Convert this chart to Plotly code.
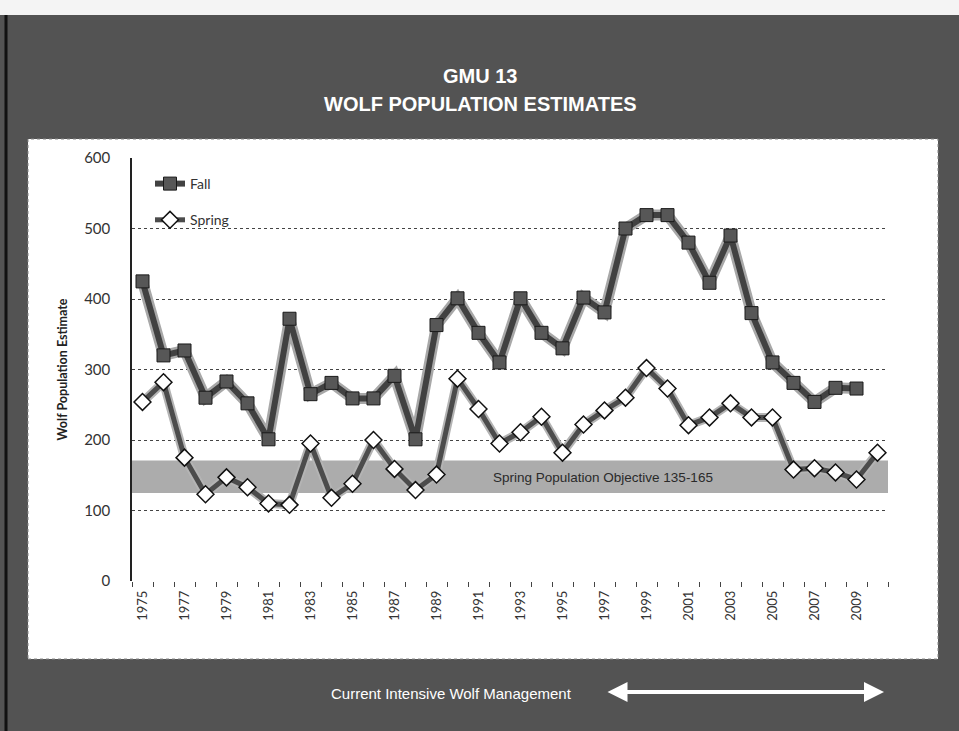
import plotly.graph_objects as go

# ---- data ----
fall_years = list(range(1975, 2010))
fall_values = [425, 320, 327, 260, 283, 252, 201, 372, 265, 281, 259, 259, 291, 201, 363,
               401, 352, 310, 401, 352, 330, 402, 381, 500, 519, 519, 480, 423, 490, 380,
               310, 281, 254, 274, 273]
spring_years = list(range(1975, 2011))
spring_values = [254, 282, 175, 123, 147, 133, 110, 108, 195, 118, 138, 200, 159, 129, 151,
                 287, 244, 195, 211, 233, 182, 222, 242, 260, 302, 273, 221, 232, 252, 232,
                 232, 158, 160, 154, 144, 182]
tick_labels = [str(y) for y in range(1975, 2010, 2)]
objective_low, objective_high = 125, 171   # band as drawn in the picture
objective_label = "Spring Population Objective 135-165"

# ---- layout geometry (pixels) ----
W, H = 959, 731
L, R, T, B = 132, 71, 158, 150
pw, ph = W - L - R, H - T - B

def px(xpix):
    return (xpix - L) / pw

def py(ypix):
    return (H - B - ypix) / ph

fig = go.Figure()

# halo / shadow lines under the series
fig.add_trace(go.Scatter(x=fall_years, y=fall_values, mode="lines",
                         line=dict(color="#a8a8a8", width=11), showlegend=False,
                         hoverinfo="skip"))
fig.add_trace(go.Scatter(x=spring_years, y=spring_values, mode="lines",
                         line=dict(color="#b4b4b4", width=9), showlegend=False,
                         hoverinfo="skip"))

fig.add_trace(go.Scatter(
    x=fall_years, y=fall_values, mode="lines+markers", name="Fall", legendgroup="f",
    line=dict(color="#414141", width=6),
    marker=dict(symbol="square", size=13, color="#575757", line=dict(color="#1a1a1a", width=1))))
fig.add_trace(go.Scatter(
    x=spring_years, y=spring_values, mode="lines+markers", name="Spring", legendgroup="s",
    line=dict(color="#4c4c4c", width=5),
    marker=dict(symbol="diamond", size=13, color="white", line=dict(color="#111111", width=1.5))))

font_ui = "Lato, 'Noto Sans', sans-serif"
font_arial = "'Liberation Sans', Arial, sans-serif"

shapes = [
    # white chart panel
    dict(type="rect", xref="paper", yref="paper", x0=px(28), x1=px(938), y0=py(659), y1=py(139),
         fillcolor="white", line=dict(color="#888888", width=1, dash="dot"), layer="below"),
    # top light strip
    dict(type="rect", xref="paper", yref="paper", x0=px(0), x1=px(959), y0=py(15), y1=py(0),
         fillcolor="#f4f4f4", line=dict(width=0), layer="below"),
    # left dark edge
    dict(type="line", xref="paper", yref="paper", x0=px(6), x1=px(6), y0=py(731), y1=py(15),
         line=dict(color="#111111", width=3), layer="below"),
    # objective band
    dict(type="rect", xref="paper", yref="y", x0=0, x1=1, y0=objective_low, y1=objective_high,
         fillcolor="#acacac", line=dict(width=0), layer="below"),
]

def label(text, x, y, size, color, family=font_arial, yref="paper"):
    return dict(text=text, xref="paper", yref=yref, x=x, y=y, xanchor="center",
                yanchor="middle", showarrow=False,
                font=dict(family=family, size=size, color=color))

annotations = [
    label("<b>GMU 13</b>", px(480), py(76), 20, "white"),
    label("<b>WOLF POPULATION ESTIMATES</b>", px(480), py(104), 20, "white"),
    label(objective_label, px(603), (objective_low + objective_high) / 2 - 1, 13.5,
          "#2a2a2a", yref="y"),
    label("Current Intensive Wolf Management", px(451), py(693), 15, "white"),
    dict(text="", xref="paper", yref="paper", x=px(884), y=py(692), ax=-278, ay=0,
         axref="pixel", ayref="pixel", showarrow=True, arrowside="end+start",
         arrowhead=2, arrowsize=1, arrowwidth=4, arrowcolor="white"),
]

fig.update_layout(
    width=W, height=H,
    margin=dict(l=L, r=R, t=T, b=B),
    paper_bgcolor="#535353",
    plot_bgcolor="white",
    shapes=shapes,
    annotations=annotations,
    showlegend=True,
    legend=dict(x=px(150), y=py(168), xanchor="left", yanchor="top",
                bgcolor="rgba(0,0,0,0)", tracegroupgap=15,
                font=dict(family=font_ui, size=14, color="#333333")),
    xaxis=dict(
        range=[1974.5, 2010.5], tickmode="array",
        tickvals=[int(t) for t in tick_labels], ticktext=tick_labels,
        tickangle=-90, ticks="", showgrid=False, zeroline=False, showline=False,
        ticklabelstandoff=6,
        tickfont=dict(family=font_ui, size=13, color="#333333"),
        minor=dict(tick0=1974.5, dtick=1, ticks="outside", ticklen=5, tickcolor="#444444",
                   showgrid=False),
    ),
    yaxis=dict(
        range=[0, 600], dtick=100, showgrid=True, gridcolor="#444444", griddash="dot",
        gridwidth=1, zeroline=False, showline=True, linecolor="#222222", linewidth=1.5,
        ticks="", tickfont=dict(family=font_ui, size=15, color="#333333"),
        ticklabelstandoff=17,
        title=dict(text="<b>Wolf Population Estimate</b>", standoff=14,
                   font=dict(family=font_ui, size=12.5, color="#222222")),
    ),
)

fig.write_html("out.html")
